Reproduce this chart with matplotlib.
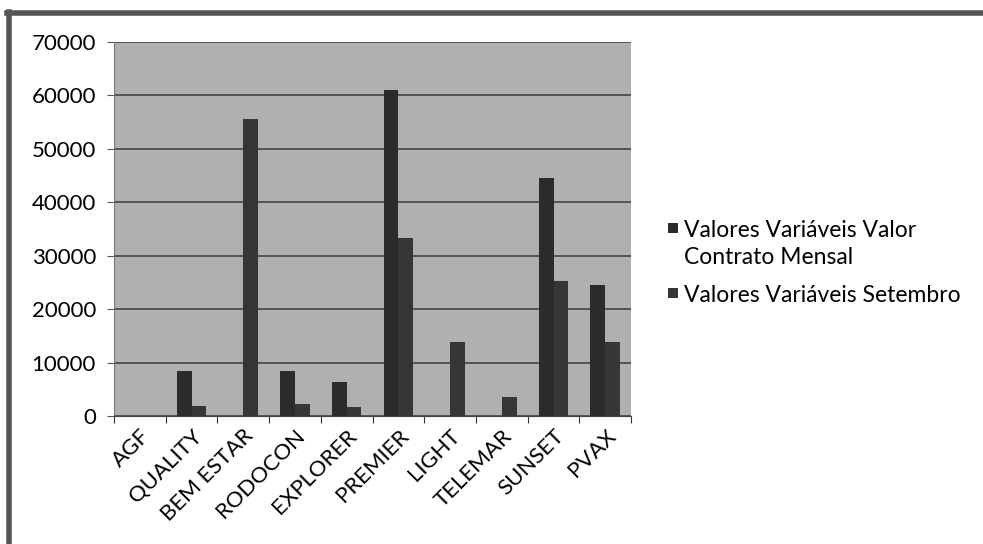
import matplotlib.pyplot as plt
from matplotlib.lines import Line2D
from matplotlib.patches import Rectangle
import numpy as np

plt.rcParams['font.family'] = ['Lato', 'DejaVu Sans']

empresas = ['AGF', 'QUALITY', 'BEM ESTAR', 'RODOCON', 'EXPLORER',
            'PREMIER', 'LIGHT', 'TELEMAR', 'SUNSET', 'PVAX']
valor_contrato_mensal = [0, 8500, 0, 8400, 6300, 61000, 0, 0, 44500, 24600]
valores_setembro = [0, 1900, 55600, 2300, 1700, 33300, 13800, 3500, 25300, 13800]
series_labels = [['Valores Variáveis Valor', 'Contrato Mensal'], ['Valores Variáveis Setembro']]
series_colors = ['#2b2b2b', '#363636']
y_ticks = [0, 10000, 20000, 30000, 40000, 50000, 60000, 70000]

W, H = 983, 544
fig = plt.figure(figsize=(W / 100, H / 100), dpi=100)
ax = fig.add_axes([0.116, 0.235, 0.526, 0.688])
ax.set_facecolor('#b0b0b0')

x = np.arange(len(empresas))
w = 0.285
ax.bar(x - w / 2, valor_contrato_mensal, width=w, color=series_colors[0], zorder=3)
ax.bar(x + w / 2, valores_setembro, width=w, color=series_colors[1], zorder=3)

ax.set_xlim(-0.5, len(empresas) - 0.5)
ax.set_ylim(0, 70000)
ax.set_yticks(y_ticks)
ax.set_yticklabels([str(v) for v in y_ticks], fontsize=16)
ax.yaxis.grid(True, color='#3a3a3a', linewidth=1.1, zorder=1)

# category boundaries carry the ticks, labels sit at the centres
ax.set_xticks(np.arange(-0.5, len(empresas)), minor=False)
ax.set_xticklabels([])
ax.set_xticks(x, minor=True)
ax.set_xticklabels(empresas, minor=True, rotation=45, ha='right',
                   rotation_mode='anchor', fontsize=16)
ax.tick_params(axis='x', which='minor', length=0, pad=7)
ax.tick_params(axis='x', which='major', length=5, direction='out', color='#333333')
ax.tick_params(axis='y', length=5, color='#555555', pad=8)

for side in ['top', 'right']:
    ax.spines[side].set_visible(False)
ax.spines['left'].set_color('#777777')
ax.spines['bottom'].set_color('#444444')

# legend drawn by hand so the marker sits on the first text line
baselines = [[237, 264], [302]]
for lines, base, color in zip(series_labels, baselines, series_colors):
    top = base[0] - 14
    fig.add_artist(Rectangle((668 / W, 1 - (top + 10) / H), 10 / W, 10 / H,
                             facecolor=color, transform=fig.transFigure))
    for txt, b in zip(lines, base):
        fig.text(684 / W, 1 - b / H, txt, fontsize=16.5, va='baseline', ha='left')

# scanned frame around the chart
fig.add_artist(Line2D([0.007, 1.0], [0.976, 0.976], color='#555555', linewidth=4,
                      transform=fig.transFigure))
fig.add_artist(Line2D([0.009, 0.009], [0.0, 0.978], color='#555555', linewidth=4,
                      transform=fig.transFigure))

fig.savefig('out.png', dpi=100)
